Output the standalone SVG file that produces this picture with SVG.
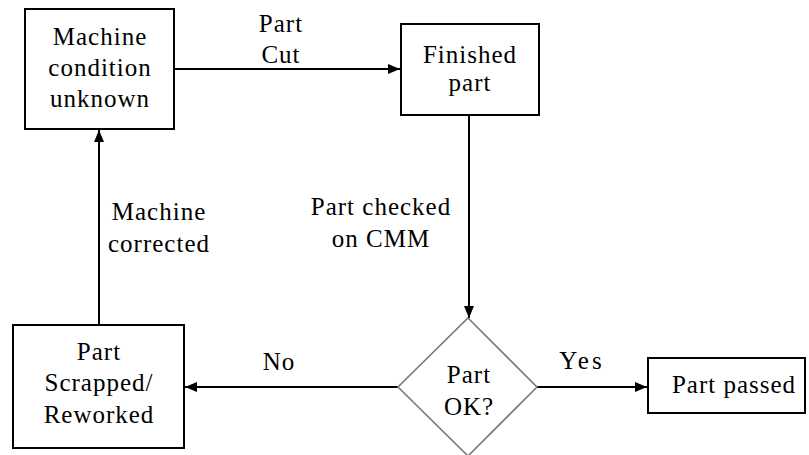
<svg xmlns="http://www.w3.org/2000/svg" width="809" height="455" viewBox="0 0 809 455" font-family="Liberation Serif, DejaVu Serif, serif">
<style>
.box{fill:#fff;stroke:#000;stroke-width:2}
.dia{fill:#fff;stroke:#7a7a7a;stroke-width:1.6}
.conn{fill:none;stroke:#000;stroke-width:2}
.t{font-size:25px;fill:#000;text-anchor:middle;letter-spacing:1px}
</style>
<defs>
<marker id="ah" viewBox="0 0 12 10" refX="12" refY="5" markerWidth="12" markerHeight="10" markerUnits="userSpaceOnUse" orient="auto">
<path d="M0,0 L12,5 L0,10 z" fill="#000"/>
</marker>
</defs>
<rect width="809" height="455" fill="#fff"/>
<g id="connectors">
<line class="conn" x1="174" y1="69" x2="400" y2="69" marker-end="url(#ah)"/>
<line class="conn" x1="469" y1="115" x2="469" y2="318" marker-end="url(#ah)"/>
<line class="conn" x1="398" y1="387" x2="185" y2="387" marker-end="url(#ah)"/>
<line class="conn" x1="537" y1="387" x2="647" y2="387" marker-end="url(#ah)"/>
<line class="conn" x1="99" y1="325" x2="99" y2="130" marker-end="url(#ah)"/>
<text class="t" x="281" y="32" font-family="Liberation Serif">Part</text>
<text class="t" x="281" y="63">Cut</text>
<text class="t" x="381" y="215">Part checked</text>
<text class="t" x="381" y="247">on CMM</text>
<text class="t" x="159" y="220">Machine</text>
<text class="t" x="159" y="252">corrected</text>
<text class="t" x="279" y="370">No</text>
<text class="t" x="582" y="369" style="letter-spacing:3px">Yes</text>
</g>
<g id="machine-unknown">
<rect class="box" x="25" y="9" width="149" height="120"/>
<text class="t" x="100" y="45">Machine</text>
<text class="t" x="100" y="76">condition</text>
<text class="t" x="100" y="107">unknown</text>
</g>
<g id="finished-part">
<rect class="box" x="401" y="24" width="138" height="91"/>
<text class="t" x="470" y="63">Finished</text>
<text class="t" x="470" y="91">part</text>
</g>
<g id="part-ok">
<polygon class="dia" points="468,318 537,387 468,456 398,387"/>
<text class="t" x="469" y="383">Part</text>
<text class="t" x="469" y="415">OK?</text>
</g>
<g id="part-scrapped">
<rect class="box" x="13" y="325" width="171" height="123"/>
<text class="t" x="99" y="360">Part</text>
<text class="t" x="99" y="391">Scrapped/</text>
<text class="t" x="99" y="423">Reworked</text>
</g>
<g id="part-passed">
<rect class="box" x="648" y="358" width="157" height="55"/>
<text class="t" x="734" y="393">Part passed</text>
</g>
</svg>
